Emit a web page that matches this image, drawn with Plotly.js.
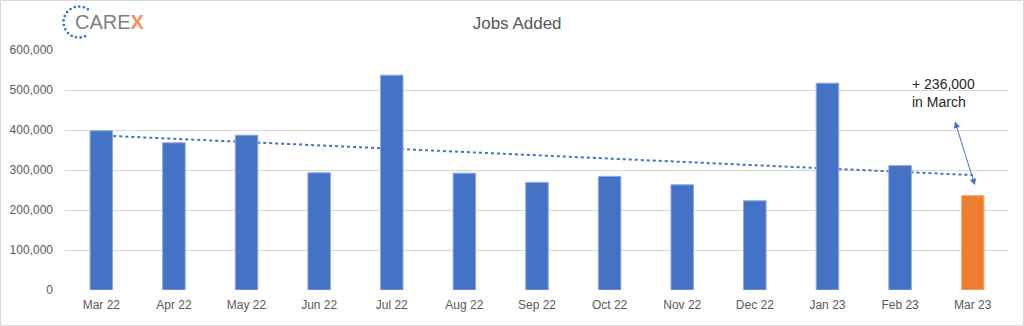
<!DOCTYPE html>
<html><head><meta charset="utf-8">
<script src="https://cdn.plot.ly/plotly-3.0.1.min.js"></script>
<style>html,body{margin:0;padding:0;background:#fff;}#chart{width:1024px;height:326px;}</style>
</head><body><div id="chart"></div>
<script>
var months = ["Mar 22","Apr 22","May 22","Jun 22","Jul 22","Aug 22","Sep 22","Oct 22","Nov 22","Dec 22","Jan 23","Feb 23","Mar 23"];
var jobsAdded = [398000,368000,387000,293000,537000,292000,269000,284000,263000,223000,517000,311000,236000];
var yTicks = [0,100000,200000,300000,400000,500000,600000];
var chartTitle = "Jobs Added";
var noteText = "+ 236,000<br>in March";

var barColors = jobsAdded.map(function(v,i){ return i === jobsAdded.length-1 ? "#ED7D31" : "#4472C4"; });
var lineColors = jobsAdded.map(function(v,i){ return i === jobsAdded.length-1 ? "#F4B183" : "#8FAADC"; });

// linear trendline (least squares) computed from data
var n = jobsAdded.length, mx = (n-1)/2, my = jobsAdded.reduce(function(a,b){return a+b;},0)/n;
var sxy=0, sxx=0;
jobsAdded.forEach(function(v,i){ sxy += (i-mx)*(v-my); sxx += (i-mx)*(i-mx); });
var slope = sxy/sxx;
var trend = jobsAdded.map(function(v,i){ return my + slope*(i-mx); });

var L=65, R=15, T=50, B=36, W=1024, H=326;
var pw = W-L-R, ph = H-T-B;
function px(x){ return (x-L)/pw; }
function py(y){ return (H-B-y)/ph; }

var shapes = [];
// outer frame
shapes.push({type:"rect", xref:"paper", yref:"paper", x0:px(0.5), x1:px(W-0.5), y0:py(H-0.5), y1:py(0.5), line:{color:"#d9d9d9", width:1}, fillcolor:"rgba(0,0,0,0)", layer:"below"});
// logo dotted ring
var cx=79, cy=22, rr=15.5;
for (var a=55; a<=305; a+=17){
  var t=a*Math.PI/180, dx=cx+rr*Math.cos(t), dy=cy-rr*Math.sin(t), s=1.3;
  shapes.push({type:"circle", xref:"paper", yref:"paper", x0:px(dx-s), x1:px(dx+s), y0:py(dy+s), y1:py(dy-s), line:{width:0}, fillcolor:"#2E6DC8"});
}

var data = [
  {type:"scatter", mode:"lines", x:months, y:trend, xaxis:"x", yaxis:"y",
   line:{color:"#4472C4", width:2, dash:"dot"}, hoverinfo:"skip", showlegend:false},
  {type:"bar", x:months, y:jobsAdded, xaxis:"x2", yaxis:"y2",
   marker:{color:barColors, line:{color:lineColors, width:1}}, showlegend:false}
];

var layout = {
  width:W, height:H, margin:{l:L, r:R, t:T, b:B},
  paper_bgcolor:"#fff", plot_bgcolor:"#fff",
  font:{family:"Liberation Sans, Arial, sans-serif", color:"#595959", size:12},
  title:{text:chartTitle, x:0.505, xanchor:"center", y:0.93, yanchor:"middle", font:{size:17, color:"#595959"}},
  bargap:0.69,
  xaxis:{type:"category", range:[-0.5,12.5], showgrid:false, showline:false, ticks:"", ticklabelstandoff:6, tickfont:{size:12, color:"#595959"}, fixedrange:true},
  yaxis:{range:[0,600000], tickvals:yTicks, tickformat:",d", showgrid:true, gridcolor:"#d9d9d9", gridwidth:1, zeroline:false, showline:false, ticks:"", ticklabelstandoff:11, tickfont:{size:12, color:"#595959"}},
  xaxis2:{type:"category", overlaying:"x", range:[-0.5,12.5], visible:false},
  yaxis2:{overlaying:"y", range:[0,600000], visible:false},
  shapes:shapes,
  annotations:[
    {xref:"paper", yref:"paper", x:px(73), y:py(22), xanchor:"left", yanchor:"middle", showarrow:false,
     text:"<span style='color:#7f7f7f'>CARE</span><span style='color:#F4915A'><b>X</b></span>", font:{size:20, family:"Liberation Sans, Arial, sans-serif", color:"#7f7f7f"}},
    {xref:"x", yref:"y", x:11.14, y:493000, xanchor:"left", yanchor:"middle", align:"left", showarrow:false,
     text:noteText, font:{size:14, color:"#262626"}},
    {xref:"x", yref:"y", x:12.03, y:262000, axref:"x", ayref:"y", ax:11.75, ay:425000, text:"",
     showarrow:true, arrowhead:2, startarrowhead:2, arrowside:"end+start", arrowsize:1.3, arrowwidth:1, arrowcolor:"#4472C4"}
  ]
};
Plotly.newPlot("chart", data, layout, {displayModeBar:false, staticPlot:true});
</script></body></html>
